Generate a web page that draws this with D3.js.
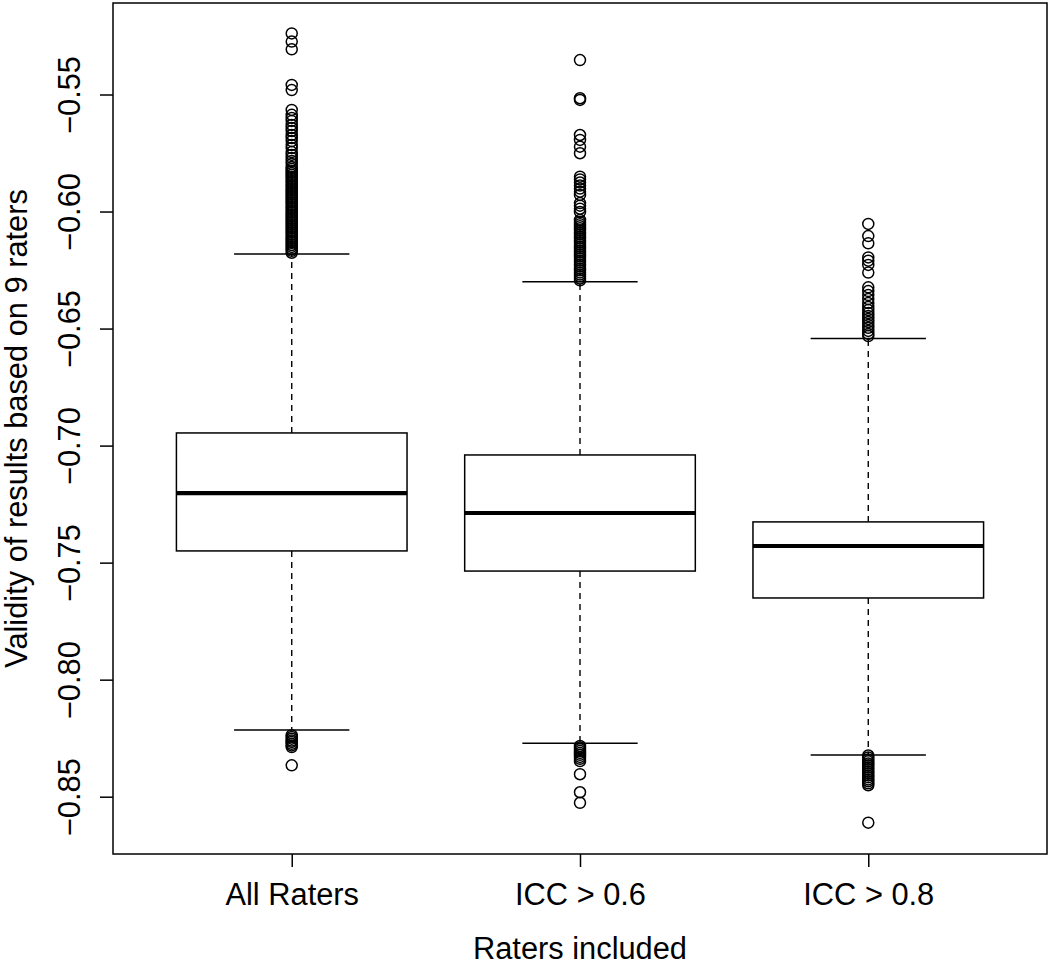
<!DOCTYPE html>
<html>
<head>
<meta charset="utf-8">
<script src="https://cdn.jsdelivr.net/npm/d3@7"></script>
<style>
  html, body { margin: 0; padding: 0; background: #fff; }
  svg { display: block; }
  text { font-family: "Liberation Sans", Arial, Helvetica, sans-serif; fill: #000; }
</style>
</head>
<body>
<svg id="chart" width="1050" height="966"></svg>
<script>
// ---------------- data ----------------
const categories = ["All Raters", "ICC > 0.6", "ICC > 0.8"];
const whiskerHigh = [-0.6181, -0.6300, -0.6542];
const q3Values    = [-0.6946, -0.7040, -0.7326];
const medians     = [-0.7203, -0.7288, -0.7429];
const q1Values    = [-0.7450, -0.7536, -0.7651];
const whiskerLow  = [-0.8215, -0.8272, -0.8322];

const outliersAll = [
  -0.5239, -0.5274, -0.5307, -0.5459, -0.5481, -0.5566, -0.5587, -0.5600, -0.5613,
  -0.5630, -0.5643, -0.5656, -0.5673, -0.5686, -0.5699, -0.5716, -0.5729, -0.5746,
  -0.5758, -0.5771, -0.5784, -0.5797, -0.5810, -0.5818, -0.5827, -0.5835, -0.5844,
  -0.5852, -0.5861, -0.5870, -0.5878, -0.5887, -0.5895, -0.5904, -0.5912, -0.5921,
  -0.5929, -0.5938, -0.5946, -0.5955, -0.5963, -0.5972, -0.5981, -0.5989, -0.5998,
  -0.6006, -0.6015, -0.6023, -0.6032, -0.6040, -0.6049, -0.6057, -0.6066, -0.6074,
  -0.6083, -0.6091, -0.6100, -0.6109, -0.6117, -0.6126, -0.6134, -0.6143, -0.6151,
  -0.6160, -0.6168, -0.6176,
  -0.8237, -0.8245, -0.8252, -0.8260, -0.8266, -0.8274, -0.8281, -0.8288, -0.8366
];
const outliers06 = [
  -0.5353, -0.5516, -0.5523, -0.5673, -0.5694, -0.5723, -0.5751, -0.5851, -0.5863,
  -0.5876, -0.5889, -0.5902, -0.5915, -0.5929, -0.5964, -0.5975, -0.5988, -0.6002,
  -0.6036, -0.6045, -0.6054, -0.6063, -0.6071, -0.6080, -0.6089, -0.6097, -0.6106,
  -0.6114, -0.6123, -0.6131, -0.6140, -0.6149, -0.6157, -0.6166, -0.6174, -0.6183,
  -0.6191, -0.6200, -0.6209, -0.6217, -0.6226, -0.6234, -0.6243, -0.6251, -0.6260,
  -0.6269, -0.6277, -0.6286, -0.6294,
  -0.8283, -0.8290, -0.8297, -0.8305, -0.8313, -0.8321, -0.8330, -0.8338, -0.8348,
  -0.8404, -0.8481, -0.8526
];
const outliers08 = [
  -0.6053, -0.6105, -0.6136, -0.6196, -0.6210, -0.6228, -0.6261, -0.6324, -0.6340,
  -0.6357, -0.6374, -0.6391, -0.6408, -0.6421, -0.6434, -0.6446, -0.6459, -0.6472,
  -0.6485, -0.6497, -0.6510, -0.6523, -0.6532,
  -0.8324, -0.8332, -0.8341, -0.8349, -0.8358, -0.8366, -0.8375, -0.8383, -0.8392,
  -0.8400, -0.8409, -0.8417, -0.8426, -0.8434, -0.8443, -0.8451, -0.8611
];
const outliers = [outliersAll, outliers06, outliers08];
const yTicks = [-0.85, -0.80, -0.75, -0.70, -0.65, -0.60, -0.55];
const xLabel = "Raters included";
const yLabel = "Validity of results based on 9 raters";

// ---------------- layout ----------------
const svg = d3.select("#chart");
const plot = { left: 113, right: 1047, top: 3, bottom: 854 };
const FONT = "30.8px";

const x = d3.scaleLinear().domain([0.38, 3.62]).range([plot.left, plot.right]);
const y = d3.scaleLinear().domain([-0.85, -0.55]).range([796.7, 94.5]);

const boxHalf = 0.4, capHalf = 0.2;
const fmt = d3.format(".2f");

const boxes = categories.map((c, i) => ({
  cat: c, pos: i + 1,
  lo: whiskerLow[i], q1: q1Values[i], med: medians[i], q3: q3Values[i], hi: whiskerHigh[i],
  out: outliers[i]
}));

const g = svg.append("g");

g.selectAll(".whisk").data(boxes).join("g").each(function(d) {
  const s = d3.select(this);
  // whiskers (dashed)
  s.append("line").attr("x1", x(d.pos)).attr("x2", x(d.pos))
    .attr("y1", y(d.q3)).attr("y2", y(d.hi))
    .attr("stroke", "#000").attr("stroke-width", 1.4).attr("stroke-dasharray", "6,5");
  s.append("line").attr("x1", x(d.pos)).attr("x2", x(d.pos))
    .attr("y1", y(d.q1)).attr("y2", y(d.lo))
    .attr("stroke", "#000").attr("stroke-width", 1.4).attr("stroke-dasharray", "6,5");
  // caps
  s.append("line").attr("x1", x(d.pos - capHalf)).attr("x2", x(d.pos + capHalf))
    .attr("y1", y(d.hi)).attr("y2", y(d.hi))
    .attr("stroke", "#000").attr("stroke-width", 1.5);
  s.append("line").attr("x1", x(d.pos - capHalf)).attr("x2", x(d.pos + capHalf))
    .attr("y1", y(d.lo)).attr("y2", y(d.lo))
    .attr("stroke", "#000").attr("stroke-width", 1.5);
  // box
  s.append("rect").attr("x", x(d.pos - boxHalf)).attr("width", x(d.pos + boxHalf) - x(d.pos - boxHalf))
    .attr("y", y(d.q3)).attr("height", y(d.q1) - y(d.q3))
    .attr("fill", "#fff").attr("stroke", "#000").attr("stroke-width", 1.5);
  // median
  s.append("line").attr("x1", x(d.pos - boxHalf)).attr("x2", x(d.pos + boxHalf))
    .attr("y1", y(d.med)).attr("y2", y(d.med))
    .attr("stroke", "#000").attr("stroke-width", 4.2);
  // outliers
  s.selectAll("circle").data(d.out).join("circle")
    .attr("cx", x(d.pos)).attr("cy", v => y(v)).attr("r", 5.5)
    .attr("fill", "none").attr("stroke", "#000").attr("stroke-width", 1.5);
});

// frame
svg.append("rect")
  .attr("x", plot.left).attr("y", plot.top)
  .attr("width", plot.right - plot.left).attr("height", plot.bottom - plot.top)
  .attr("fill", "none").attr("stroke", "#000").attr("stroke-width", 1.5);

// y axis
const yAxis = svg.append("g").attr("transform", `translate(${plot.left},0)`)
  .call(d3.axisLeft(y).tickValues(yTicks).tickSize(13).tickFormat(fmt));
yAxis.select(".domain").remove();
yAxis.selectAll(".tick line").attr("stroke", "#000").attr("stroke-width", 1.5);
yAxis.selectAll(".tick text")
  .attr("x", null).attr("dy", null)
  .attr("transform", "translate(-33,0) rotate(-90)")
  .attr("text-anchor", "middle")
  .style("font-size", FONT)
  .style("font-family", '"Liberation Sans", Arial, Helvetica, sans-serif');

// x axis
const xAxis = svg.append("g").attr("transform", `translate(0,${plot.bottom})`)
  .call(d3.axisBottom(x).tickValues([1, 2, 3]).tickSize(13).tickFormat(d => categories[d - 1]));
xAxis.select(".domain").remove();
xAxis.selectAll(".tick line").attr("stroke", "#000").attr("stroke-width", 1.5);
xAxis.selectAll(".tick text")
  .attr("y", 51).attr("dy", null)
  .style("font-size", FONT)
  .style("font-family", '"Liberation Sans", Arial, Helvetica, sans-serif');

// axis titles
svg.append("text")
  .attr("x", (plot.left + plot.right) / 2).attr("y", 959)
  .attr("text-anchor", "middle").style("font-size", FONT)
  .text(xLabel);

svg.append("text")
  .attr("transform", `translate(27,${(plot.top + plot.bottom) / 2}) rotate(-90)`)
  .attr("text-anchor", "middle").style("font-size", FONT)
  .text(yLabel);
</script>
</body>
</html>
